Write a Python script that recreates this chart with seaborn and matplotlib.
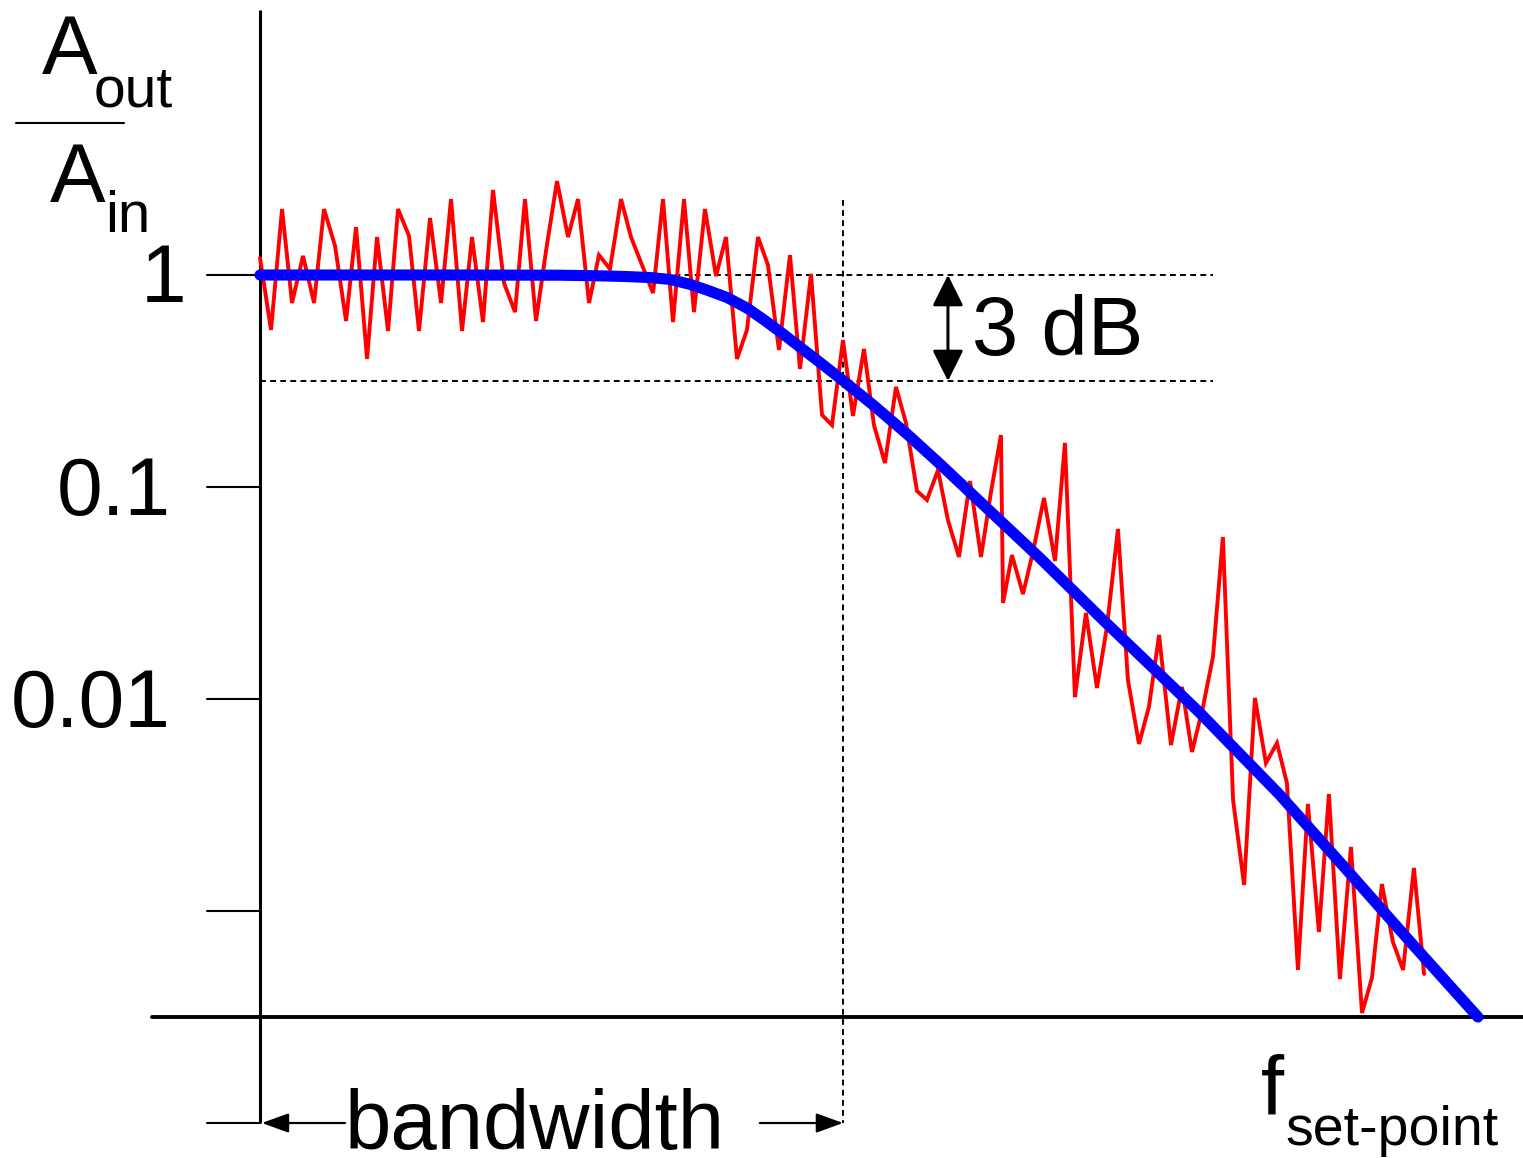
import numpy as np
import matplotlib
matplotlib.use("Agg")
import matplotlib.pyplot as plt
import seaborn as sns

# ---------------- data (x: decades of frequency from the origin, y: log10 of gain) -------------
red_x = [0.000, 0.052, 0.104, 0.151, 0.203, 0.255, 0.302, 0.354, 0.406, 0.453,
         0.505, 0.552, 0.604, 0.651, 0.703, 0.750, 0.802, 0.854, 0.901, 0.953,
         1.000, 1.052, 1.099, 1.151, 1.203, 1.250, 1.302, 1.349, 1.401, 1.453,
         1.500, 1.552, 1.599, 1.651, 1.703, 1.750, 1.802, 1.854, 1.901, 1.948,
         2.000, 2.047, 2.099, 2.151, 2.198, 2.250, 2.297, 2.349, 2.396, 2.448,
         2.500, 2.547, 2.599, 2.651, 2.698, 2.750, 2.797, 2.849, 2.896, 2.948,
         3.000, 3.047, 3.099, 3.146, 3.198, 3.245, 3.297, 3.349, 3.401, 3.448,
         3.495, 3.505, 3.547, 3.599, 3.646, 3.698, 3.750, 3.797, 3.844, 3.896,
         3.948, 3.995, 4.047, 4.094, 4.146, 4.193, 4.241, 4.297, 4.349, 4.396,
         4.448, 4.495, 4.542, 4.590, 4.642, 4.693, 4.745, 4.797, 4.844, 4.896,
         4.943, 4.995, 5.042, 5.094, 5.146, 5.198, 5.245, 5.292, 5.344, 5.392,
         5.443, 5.491]
red_log_gain = [0.080, -0.259, 0.311, -0.132, 0.090, -0.132, 0.311, 0.137, -0.217, 0.226,
                -0.396, 0.179, -0.264, 0.311, 0.184, -0.264, 0.269, -0.132, 0.358, -0.264,
                0.179, -0.222, 0.401, -0.038, -0.175, 0.358, -0.217, 0.113, 0.443, 0.179,
                0.358, -0.132, 0.094, 0.028, 0.358, 0.179, 0.047, -0.085, 0.358, -0.222,
                0.358, -0.175, 0.311, -0.005, 0.179, -0.396, -0.259, 0.179, 0.047, -0.354,
                0.094, -0.443, 0.005, -0.660, -0.708, -0.307, -0.665, -0.349, -0.708, -0.887,
                -0.528, -0.698, -1.019, -1.061, -0.920, -1.156, -1.330, -0.972, -1.330, -1.024,
                -0.755, -1.547, -1.321, -1.505, -1.307, -1.052, -1.349, -0.792, -1.991, -1.594,
                -1.948, -1.660, -1.198, -1.910, -2.212, -2.038, -1.698, -2.217, -1.943, -2.250,
                -2.038, -1.802, -1.236, -2.476, -2.877, -1.995, -2.302, -2.208, -2.396, -3.278,
                -2.495, -3.099, -2.448, -3.321, -2.698, -3.481, -3.316, -2.873, -3.146, -3.278,
                -2.797, -3.297]

blue_x = [0.000, 0.896, 1.415, 1.604, 1.722, 1.840, 1.934, 2.028, 2.108, 2.203,
          2.297, 2.382, 2.467, 2.547, 2.642, 2.750, 2.892, 3.052, 3.208, 3.363,
          3.679, 3.962, 4.434, 4.811, 5.127, 5.439, 5.745]
blue_log_gain = [0.000, 0.000, -0.001, -0.004, -0.007, -0.012, -0.021, -0.044, -0.071, -0.106,
                 -0.156, -0.215, -0.278, -0.340, -0.413, -0.498, -0.613, -0.750, -0.892, -1.038,
                 -1.335, -1.613, -2.066, -2.453, -2.807, -3.160, -3.500]

tick_values = [1, 0.1, 0.01, 0.001, 0.0001]
tick_labels = ["1", "0.1", "0.01"]
f_bandwidth = 2.75          # decades
gain_3db = 10 ** -0.5       # lower dashed level
x_axis_gain = 10 ** -3.5    # level of the frequency axis

red_gain = 10 ** np.array(red_log_gain)
blue_gain = 10 ** np.array(blue_log_gain)

# ---------------- figure ----------------
sns.set_theme(style="white")
plt.rcParams["font.family"] = ["Liberation Sans", "DejaVu Sans"]
plt.rcParams["text.color"] = "black"

W, H = 1523, 1158
fig = plt.figure(figsize=(W / 100, H / 100), dpi=100)
ax = fig.add_axes([0, 0, 1, 1])
ax.set_yscale("log")
ax.set_xlim(-260 / 212, (W - 260) / 212)
ax.set_ylim(10 ** ((275 - H) / 212), 10 ** (275 / 212))
ax.axis("off")

# axes
ax.plot([0, 0], [10 ** 1.25, 1e-4], color="black", lw=2.2, zorder=1, solid_capstyle="butt")
ax.plot([-0.509, 10], [x_axis_gain, x_axis_gain], color="black", lw=2.8, zorder=1,
        solid_capstyle="round")
for tv in tick_values:
    ax.plot([-0.25, 0], [tv, tv], color="black", lw=1.5, zorder=1)

# tick labels
label_pos = [(-0.345, 10 ** -0.127), (-0.420, 10 ** -1.132), (-0.420, 10 ** -2.132)]
for lab, (lx, ly) in zip(tick_labels, label_pos):
    ax.text(lx, ly, lab, fontsize=59, ha="right", va="baseline", color="black")

# y-axis label: A_out / A_in
ax.text(-1.028, 10 ** 0.948, "A", fontsize=60, ha="left", va="baseline", color="black")
ax.text(-0.785, 10 ** 0.797, "out", fontsize=41, ha="left", va="baseline", color="black")
ax.plot([-1.151, -0.642], [10 ** 0.717, 10 ** 0.717], color="black", lw=1.5)
ax.text(-0.991, 10 ** 0.344, "A", fontsize=60, ha="left", va="baseline", color="black")
ax.text(-0.730, 10 ** 0.203, "in", fontsize=42, ha="left", va="baseline", color="black")

# dashed guide lines
ax.plot([0, 4.495], [1, 1], color="black", lw=1.4, ls=(0, (3, 2.2)), zorder=2)
ax.plot([0, 4.495], [gain_3db, gain_3db], color="black", lw=1.4, ls=(0, (3, 2.2)), zorder=2)
ax.plot([f_bandwidth, f_bandwidth], [10 ** 0.354, 1e-4], color="black", lw=1.4,
        ls=(0, (3, 2.2)), zorder=2)

# curves
sns.lineplot(x=red_x, y=red_gain, ax=ax, color="#ff0000", linewidth=2.8,
             estimator=None, sort=False, zorder=3)
sns.lineplot(x=blue_x, y=blue_gain, ax=ax, color="#0000ff", linewidth=8,
             estimator=None, sort=False, zorder=4)
ax.lines[-2].set_solid_joinstyle("miter")
ax.lines[-1].set_solid_capstyle("round")
ax.lines[-1].set_solid_joinstyle("round")

# 3 dB double arrow
ax.annotate("", xy=(3.245, 1.0), xytext=(3.245, gain_3db),
            arrowprops=dict(arrowstyle="<|-|>,head_length=0.5,head_width=0.25",
                            mutation_scale=38, color="black", lw=2.2,
                            shrinkA=0, shrinkB=0), zorder=5)
ax.text(3.358, 10 ** -0.377, "3 dB", fontsize=60, ha="left", va="baseline", color="black")

# bandwidth arrows
for tail, tip in [(0.401, 0.009), (2.358, f_bandwidth)]:
    ax.annotate("", xy=(tip, 1e-4), xytext=(tail, 1e-4),
                arrowprops=dict(arrowstyle="-|>,head_length=0.55,head_width=0.2",
                                mutation_scale=30, color="black", lw=1.6,
                                shrinkA=0, shrinkB=0))
ax.text(0.401, 10 ** -4.125, "bandwidth", fontsize=60, ha="left", va="baseline",
        color="black")

# f_set-point
ax.text(4.722, 10 ** -3.962, "f", fontsize=60, ha="left", va="baseline", color="black")
ax.text(4.835, 10 ** -4.104, "set-point", fontsize=40, ha="left", va="baseline",
        color="black")

fig.savefig("out.png", dpi=100, facecolor="white")
